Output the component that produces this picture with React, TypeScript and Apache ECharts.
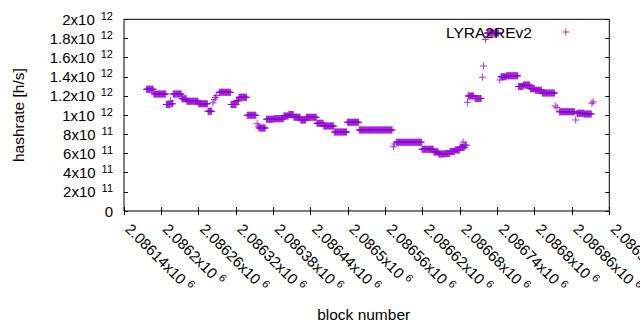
import React, { useEffect, useRef } from 'react';
import * as echarts from 'echarts';

// Runs of blocks sharing one hashrate value
const runStart = [
  2086176, 2086188, 2086208, 2086215, 2086216, 2086219, 2086233, 2086241, 2086260, 2086275,
  2086283, 2086285, 2086287, 2086289, 2086293, 2086312, 2086321, 2086325, 2086338, 2086354,
  2086356, 2086357, 2086369, 2086381, 2086397, 2086405, 2086413, 2086424, 2086433, 2086450,
  2086461, 2086478, 2086499, 2086518, 2086573, 2086575, 2086578, 2086619, 2086638, 2086646,
  2086656, 2086664, 2086672, 2086680, 2086688, 2086685, 2086692, 2086693, 2086704, 2086716,
  2086718, 2086721, 2086724, 2086744, 2086746, 2086755, 2086774, 2086782, 2086793, 2086801,
  2086812, 2086833, 2086836, 2086840, 2086866, 2086868, 2086880, 2086892, 2086894,
];
const runEnd = [
  2086187, 2086207, 2086214, 2086215, 2086218, 2086232, 2086240, 2086259, 2086274, 2086281,
  2086283, 2086285, 2086287, 2086289, 2086311, 2086320, 2086324, 2086337, 2086352, 2086354,
  2086356, 2086367, 2086380, 2086396, 2086404, 2086412, 2086423, 2086432, 2086449, 2086460,
  2086477, 2086498, 2086517, 2086571, 2086573, 2086575, 2086618, 2086637, 2086645, 2086655,
  2086663, 2086671, 2086679, 2086687, 2086690, 2086685, 2086692, 2086702, 2086714, 2086716,
  2086718, 2086721, 2086742, 2086744, 2086754, 2086773, 2086781, 2086792, 2086800, 2086811,
  2086832, 2086833, 2086836, 2086864, 2086866, 2086879, 2086891, 2086892, 2086894,
];
const runValue = [
  1.27e12, 1.22e12, 1.11e12, 1.15e12, 1.12e12, 1.22e12, 1.17e12, 1.145e12, 1.12e12, 1.04e12,
  1.13e12, 1.16e12, 1.185e12, 1.205e12, 1.24e12, 1.11e12, 1.15e12, 1.186e12, 1.0e12, 0.91e12,
  0.885e12, 0.866e12, 0.957e12, 0.963e12, 0.99e12, 1.008e12, 0.978e12, 0.95e12, 0.978e12, 0.915e12,
  0.887e12, 0.824e12, 0.925e12, 0.845e12, 0.67e12, 0.70e12, 0.717e12, 0.644e12, 0.615e12, 0.595e12,
  0.60e12, 0.62e12, 0.636e12, 0.665e12, 0.685e12, 0.72e12, 1.135e12, 1.2e12, 1.175e12, 1.395e12,
  1.513e12, 1.79e12, 1.857e12, 1.367e12, 1.40e12, 1.412e12, 1.30e12, 1.315e12, 1.276e12, 1.26e12,
  1.231e12, 1.095e12, 1.08e12, 1.036e12, 0.95e12, 1.02e12, 1.012e12, 1.123e12, 1.14e12,
];

const seriesName = 'LYRA2REv2';
const xMin = 2086140;
const xMax = 2086920;
const xStep = 60;
const yMin = 0;
const yMax = 2e12;
const yStep = 2e11;

const FONT = '"Liberation Sans", Arial, sans-serif';
const COLOR = '#9400d3';
const CROSS = 'path://M0,3h7v1h-7z M3,0h1v7h-1z';

function yFmt(v: number): string {
  if (v === 0) return '{m|0}';
  const e = Math.floor(Math.log10(v) + 1e-9);
  const m = +(v / Math.pow(10, e)).toPrecision(6);
  return `{m|${m}x10}{s|${e}}`;
}
function xFmt(v: number): string {
  const m = +(v / 1e6).toFixed(5);
  return `{m|${m}x10}{s|6}`;
}

export default function App() {
  const ref = useRef<HTMLDivElement>(null);
  useEffect(() => {
    if (!ref.current) return;
    const chart = echarts.init(ref.current, undefined, { renderer: 'svg' });
    const points: [number, number][] = [];
    runStart.forEach((s, i) => {
      for (let b = s; b <= runEnd[i]; b++) points.push([b, runValue[i]]);
    });
    const yRich = {
      m: { fontSize: 15, fontFamily: FONT, color: '#000' },
      s: { fontSize: 11, fontFamily: FONT, color: '#000', padding: [0, 0, 7, 6] },
    };
    const xRich = {
      m: { fontSize: 15, fontFamily: FONT, color: '#000' },
      s: { fontSize: 11, fontFamily: FONT, color: '#000', padding: [0, 0, 8, 4] },
    };
    chart.setOption({
      animation: false,
      backgroundColor: '#fff',
      textStyle: { fontFamily: FONT },
      grid: {
        left: 124, right: 30.7, top: 19.3, bottom: 119,
        outerBoundsMode: 'none',
        containLabel: false,
        show: true, borderColor: '#000', borderWidth: 1, backgroundColor: 'transparent',
      },
      legend: {
        show: true,
        left: 446, top: 24, padding: 0,
        align: 'right',
        itemWidth: 58, itemHeight: 7,
        symbolKeepAspect: true,
        data: [{ name: seriesName, icon: CROSS }],
        textStyle: { fontSize: 15.5, fontFamily: FONT, color: '#000' },
      },
      xAxis: [
        {
          type: 'value', min: xMin, max: xMax, interval: xStep,
          name: 'block number', nameLocation: 'middle', nameGap: 95,
          nameTextStyle: { fontSize: 15.5, fontFamily: FONT, color: '#000', padding: [0, 6, 0, 0] },
          axisLine: { show: false },
          axisTick: { show: true, inside: true, length: 4, lineStyle: { color: '#000' } },
          splitLine: { show: false },
          axisLabel: {
            rotate: -45, margin: 11, padding: [0, 0, 0, 6], formatter: xFmt, rich: xRich,
            showMinLabel: true, showMaxLabel: true, hideOverlap: false,
          },
        },
        {
          type: 'value', min: xMin, max: xMax, interval: xStep, position: 'top',
          axisLine: { show: false },
          axisTick: { show: true, inside: true, length: 4, lineStyle: { color: '#000' } },
          splitLine: { show: false }, axisLabel: { show: false },
        },
      ],
      yAxis: [
        {
          type: 'value', min: yMin, max: yMax, interval: yStep,
          name: 'hashrate [h/s]', nameLocation: 'middle', nameGap: 98, nameRotate: 90,
          nameTextStyle: { fontSize: 15.5, fontFamily: FONT, color: '#000' },
          axisLine: { show: false },
          axisTick: { show: true, inside: true, length: 4, lineStyle: { color: '#000' } },
          splitLine: { show: false },
          axisLabel: { margin: 11, formatter: yFmt, rich: yRich, showMinLabel: true, showMaxLabel: true },
        },
        {
          type: 'value', min: yMin, max: yMax, interval: yStep, position: 'right',
          axisLine: { show: false },
          axisTick: { show: true, inside: true, length: 4, lineStyle: { color: '#000' } },
          splitLine: { show: false }, axisLabel: { show: false },
        },
      ],
      series: [
        {
          name: seriesName,
          type: 'scatter',
          xAxisIndex: 0, yAxisIndex: 0,
          symbol: CROSS,
          symbolSize: 7,
          itemStyle: { color: COLOR },
          data: points,
          silent: true,
        },
      ],
    });
    return () => chart.dispose();
  }, []);
  return (
    <div
      ref={ref}
      style={{ position: 'fixed', left: 0, top: 0, width: 640, height: 330, background: '#fff' }}
    />
  );
}
